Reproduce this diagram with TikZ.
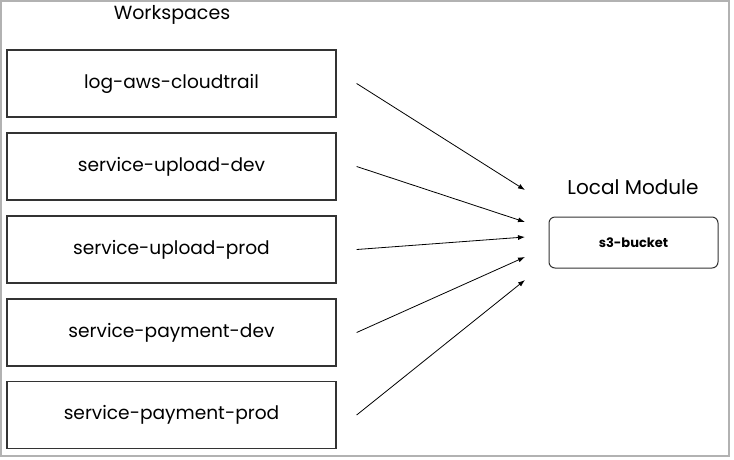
\documentclass[tikz,border=0pt]{standalone}
\usepackage{fontspec}
\setmainfont{Poppins}
\usetikzlibrary{arrows.meta}

\begin{document}
\begin{tikzpicture}[x=1pt,y=-1pt,
    wsbox/.style={draw=black!80,line width=1.3pt,minimum width=329pt,minimum height=67pt,font=\fontsize{18.6}{22}\selectfont},
    modbox/.style={draw=black!80,line width=1pt,rounded corners=6pt,minimum width=169pt,minimum height=51pt,font=\fontsize{13}{16}\selectfont\bfseries},
    feed/.style={-{Latex[length=7pt,width=5pt]},line width=0.8pt}]
    \useasboundingbox (0,0) rectangle (734,459);
    \draw[black!30,line width=1.2pt] (1,1) rectangle (729,456);

    \node (wstitle) at (172,15) {\fontsize{19}{22}\selectfont Workspaces};
    \foreach \y/\t/\k in {83.5/log-aws-cloudtrail/1,166.5/service-upload-dev/2,249.5/service-upload-prod/3,332.5/service-payment-dev/4,415/service-payment-prod/5}
      \node[wsbox] (ws\k) at (171.5,\y) {\t};

    \node (modtitle) at (633,187) {\fontsize{20}{24}\selectfont Local Module};
    \node[modbox] (s3) at (633.5,242.5) {s3-bucket};

    \foreach \y/\k in {190/1,222/2,237/3,257/4,280/5}
      \coordinate (t\k) at (525,\y);
    \foreach \k in {1,...,5}
      \draw[feed] ([xshift=20pt]ws\k.east) -- (t\k);
\end{tikzpicture}
\end{document}
